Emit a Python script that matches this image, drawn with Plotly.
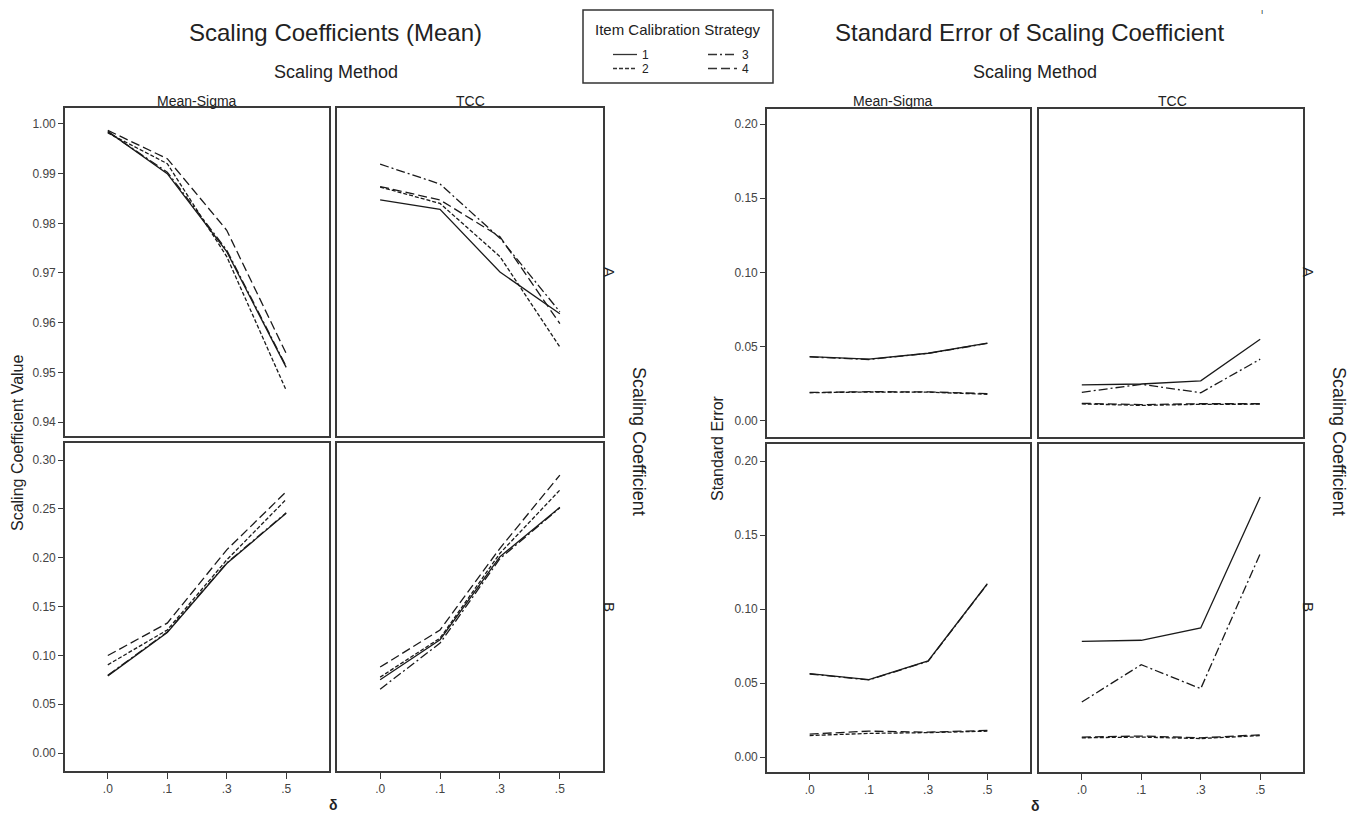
import plotly.graph_objects as go

W, H = 1356, 824          # browser window size
OFF = 8                   # page body margin
FW, FH = W - 2 * OFF, H - 2 * OFF
FONT = "Arial, Liberation Sans, sans-serif"

delta = [".0", ".1", ".3", ".5"]
strategies = ["1", "2", "3", "4"]

# Scaling coefficient means
mean_A_ms_1 = [0.9985, 0.9900, 0.9743, 0.9510]
mean_A_ms_2 = [0.9982, 0.9920, 0.9733, 0.9464]
mean_A_ms_3 = [0.9984, 0.9903, 0.9746, 0.9512]
mean_A_ms_4 = [0.9987, 0.9930, 0.9786, 0.9538]

mean_A_tcc_1 = [0.9847, 0.9828, 0.9702, 0.9618]
mean_A_tcc_2 = [0.9873, 0.9840, 0.9733, 0.9551]
mean_A_tcc_3 = [0.9919, 0.9879, 0.9770, 0.9622]
mean_A_tcc_4 = [0.9874, 0.9847, 0.9773, 0.9598]

mean_B_ms_1 = [0.0790, 0.1235, 0.1940, 0.2454]
mean_B_ms_2 = [0.0903, 0.1260, 0.1977, 0.2597]
mean_B_ms_3 = [0.0795, 0.1240, 0.1945, 0.2460]
mean_B_ms_4 = [0.0998, 0.1330, 0.2080, 0.2675]

mean_B_tcc_1 = [0.0750, 0.1160, 0.2010, 0.2515]
mean_B_tcc_2 = [0.0777, 0.1176, 0.2045, 0.2692]
mean_B_tcc_3 = [0.0654, 0.1125, 0.1990, 0.2510]
mean_B_tcc_4 = [0.0880, 0.1260, 0.2096, 0.2846]

# Standard errors
se_A_ms_1 = [0.0433, 0.0416, 0.0456, 0.0524]
se_A_ms_2 = [0.0190, 0.0195, 0.0194, 0.0180]
se_A_ms_3 = [0.0431, 0.0414, 0.0455, 0.0522]
se_A_ms_4 = [0.0192, 0.0197, 0.0196, 0.0184]

se_A_tcc_1 = [0.0243, 0.0249, 0.0270, 0.0550]
se_A_tcc_2 = [0.0115, 0.0105, 0.0112, 0.0113]
se_A_tcc_3 = [0.0193, 0.0247, 0.0190, 0.0416]
se_A_tcc_4 = [0.0119, 0.0110, 0.0116, 0.0116]

se_B_ms_1 = [0.0563, 0.0523, 0.0649, 0.1171]
se_B_ms_2 = [0.0145, 0.0160, 0.0165, 0.0175]
se_B_ms_3 = [0.0561, 0.0521, 0.0647, 0.1169]
se_B_ms_4 = [0.0155, 0.0175, 0.0168, 0.0180]

se_B_tcc_1 = [0.0782, 0.0789, 0.0872, 0.1757]
se_B_tcc_2 = [0.0130, 0.0135, 0.0125, 0.0145]
se_B_tcc_3 = [0.0372, 0.0624, 0.0462, 0.1374]
se_B_tcc_4 = [0.0135, 0.0142, 0.0130, 0.0150]

dashes = {"1": "solid", "2": "4px,2px", "3": "9px,3px,2px,3px", "4": "9px,4px"}


def px2x(px):
    return (px - OFF) / FW


def px2y(py):
    return 1 - (py - OFF) / FH


panels = [
    ([mean_A_ms_1, mean_A_ms_2, mean_A_ms_3, mean_A_ms_4], (65, 329), (108, 436), (0.9372, 1.0032), 0.01, False, True),
    ([mean_A_tcc_1, mean_A_tcc_2, mean_A_tcc_3, mean_A_tcc_4], (337, 603), (108, 436), (0.9372, 1.0032), 0.01, False, False),
    ([mean_B_ms_1, mean_B_ms_2, mean_B_ms_3, mean_B_ms_4], (65, 329), (443, 771), (-0.0184, 0.3174), 0.05, True, True),
    ([mean_B_tcc_1, mean_B_tcc_2, mean_B_tcc_3, mean_B_tcc_4], (337, 603), (443, 771), (-0.0184, 0.3174), 0.05, True, False),
    ([se_A_ms_1, se_A_ms_2, se_A_ms_3, se_A_ms_4], (767, 1030), (109, 437), (-0.0108, 0.2101), 0.05, False, True),
    ([se_A_tcc_1, se_A_tcc_2, se_A_tcc_3, se_A_tcc_4], (1039, 1303), (109, 437), (-0.0108, 0.2101), 0.05, False, False),
    ([se_B_ms_1, se_B_ms_2, se_B_ms_3, se_B_ms_4], (767, 1030), (444, 772), (-0.0101, 0.2115), 0.05, True, True),
    ([se_B_tcc_1, se_B_tcc_2, se_B_tcc_3, se_B_tcc_4], (1039, 1303), (444, 772), (-0.0101, 0.2115), 0.05, True, False),
]

fig = go.Figure()
layout = {}
for i, (series, xs, ys, yr, dt, showx, showy) in enumerate(panels):
    n = i + 1
    xa = "x" if n == 1 else f"x{n}"
    ya = "y" if n == 1 else f"y{n}"
    for s, vals in zip(strategies, series):
        fig.add_trace(go.Scatter(
            x=delta, y=vals, mode="lines", xaxis=xa, yaxis=ya,
            line=dict(color="#1a1a1a", width=1.3, dash=dashes[s]),
            showlegend=False, hoverinfo="skip"))
    layout["xaxis" if n == 1 else f"xaxis{n}"] = dict(
        domain=[px2x(xs[0]), px2x(xs[1])], anchor=ya, type="category",
        range=[-0.72, 3.72], showgrid=False, zeroline=False,
        showline=True, mirror=True, linecolor="#3a3a3a", linewidth=1.6,
        ticks="outside" if showx else "", ticklen=6, tickcolor="#3a3a3a",
        showticklabels=showx, tickfont=dict(family=FONT, size=12, color="#444"),
        fixedrange=True)
    layout["yaxis" if n == 1 else f"yaxis{n}"] = dict(
        domain=[px2y(ys[1]), px2y(ys[0])], anchor=xa, range=list(yr),
        dtick=dt, tick0=0, tickformat=".2f", showgrid=False, zeroline=False,
        showline=True, mirror=True, linecolor="#3a3a3a", linewidth=1.6,
        ticks="outside" if showy else "", ticklen=5, tickcolor="#3a3a3a",
        showticklabels=showy, tickfont=dict(family=FONT, size=12, color="#444"),
        fixedrange=True)

ann = []


def text(x, y, t, size, angle=0, bold=False, color="#222"):
    if bold:
        t = f"<b>{t}</b>"
    ann.append(dict(x=px2x(x), y=px2y(y), xref="paper", yref="paper", text=t,
                    showarrow=False, textangle=angle, xanchor="center", yanchor="middle",
                    font=dict(family=FONT, size=size, color=color)))


# Left chart texts
text(335, 32, "Scaling Coefficients (Mean)", 24)
text(336, 72, "Scaling Method", 18)
text(197, 101, "Mean-Sigma", 14)
text(470, 101, "TCC", 14)
text(17, 443, "Scaling Coefficient Value", 16, angle=-90)
text(610, 272, "A", 15, angle=90)
text(610, 607, "B", 15, angle=90)
text(639, 441, "Scaling Coefficient", 18, angle=90)
text(333, 805, "δ", 14, bold=True)

# Right chart texts
text(1029, 32, "Standard Error of Scaling Coefficient", 24)
text(1035, 72, "Scaling Method", 18)
text(893, 101, "Mean-Sigma", 14)
text(1172, 101, "TCC", 14)
text(717, 448, "Standard Error", 16, angle=-90)
text(1309, 272, "A", 15, angle=90)
text(1309, 607, "B", 15, angle=90)
text(1339, 441, "Scaling Coefficient", 18, angle=90)
text(1035, 806, "δ", 14, bold=True)
text(1262, 11, "ı", 8)

# Legend
text(678, 29, "Item Calibration Strategy", 15)
shapes = [dict(type="rect", xref="paper", yref="paper",
               x0=px2x(583), x1=px2x(773), y0=px2y(83), y1=px2y(10),
               line=dict(color="#333", width=1.5), fillcolor="rgba(0,0,0,0)")]
legend_pos = {"1": (613, 637, 54.5), "2": (613, 637, 68.5), "3": (708, 737, 54.5), "4": (708, 737, 68.5)}
for s in strategies:
    x0, x1, yy = legend_pos[s]
    shapes.append(dict(type="line", xref="paper", yref="paper",
                       x0=px2x(x0), x1=px2x(x1), y0=px2y(yy), y1=px2y(yy),
                       line=dict(color="#333", width=1.3, dash=dashes[s])))
    ann.append(dict(x=px2x(x1 + 3), y=px2y(yy), xref="paper", yref="paper", text=s,
                    showarrow=False, xanchor="left", yanchor="middle",
                    font=dict(family=FONT, size=12, color="#222")))

fig.update_layout(
    width=FW, height=FH, margin=dict(l=0, r=0, t=0, b=0),
    paper_bgcolor="white", plot_bgcolor="white",
    annotations=ann, shapes=shapes, showlegend=False,
    font=dict(family=FONT), **layout)

fig.write_html("out.html")
